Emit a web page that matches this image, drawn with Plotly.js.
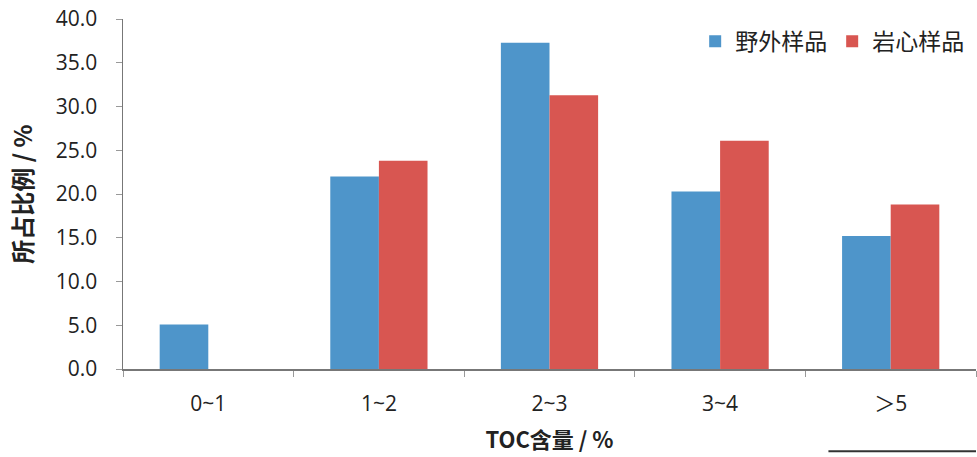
<!DOCTYPE html>
<html><head><meta charset="utf-8">
<script src="https://cdn.plot.ly/plotly-3.0.1.min.js"></script>
<style>html,body{margin:0;padding:0;background:#fff;}#chart{width:977px;height:457px;}</style>
</head><body><div id="chart"></div>
<script>
const categories = ["0~1", "1~2", "2~3", "3~4", "＞5"];
const fieldName = "野外样品";
const coreName = "岩心样品";
const fieldValues = [5.1, 22.0, 37.3, 20.3, 15.2];
const coreValues = [0, 23.8, 31.3, 26.1, 18.8];
const yTickVals = [0, 5, 10, 15, 20, 25, 30, 35, 40];

const traces = [
  {type: 'bar', name: fieldName, x: categories, y: fieldValues,
   marker: {color: '#4E95CA'}, hoverinfo: 'none'},
  {type: 'bar', name: coreName, x: categories, y: coreValues,
   marker: {color: '#D85651'}, hoverinfo: 'none'}
];

const layout = {
  width: 977, height: 457,
  margin: {l: 123, r: 1, t: 19, b: 88, pad: 0},
  paper_bgcolor: '#fff', plot_bgcolor: '#fff',
  barmode: 'group', bargap: 0.43, bargroupgap: 0,
  font: {family: '"Open Sans", "Noto Sans CJK SC", sans-serif', color: '#222'},
  xaxis: {
    type: 'category', tickson: 'boundaries', ticks: 'outside', ticklen: 6,
    tickcolor: '#999', showline: true, linecolor: '#777', linewidth: 1.5,
    showgrid: false, zeroline: false, ticklabelstandoff: 15,
    tickfont: {size: 21, family: '"Open Sans", "Noto Sans CJK SC", sans-serif', color: '#222'},
    title: {text: 'TOC含量 / %', standoff: 17,
            font: {size: 22, family: '"Noto Sans CJK SC", sans-serif', color: '#222', weight: 'bold'}}
  },
  yaxis: {
    range: [0, 40], tickvals: yTickVals, tickformat: '.1f',
    ticks: 'outside', ticklen: 6, tickcolor: '#999',
    showline: true, linecolor: '#777', linewidth: 1.5,
    showgrid: false, zeroline: false, ticklabelstandoff: 14,
    tickfont: {size: 21, color: '#222'},
    title: {text: '所占比例 / %', standoff: 16,
            font: {size: 24, family: '"Noto Sans CJK SC", sans-serif', color: '#222', weight: 'bold'}}
  },
  showlegend: true,
  legend: {orientation: 'h', x: 0.992, xanchor: 'right', y: 0.998, yanchor: 'top',
           bgcolor: 'rgba(0,0,0,0)', font: {size: 23, family: '"Noto Sans CJK SC", sans-serif', color: '#222'},
           itemwidth: 30, traceorder: 'normal'},
  shapes: [
    {type: 'line', xref: 'paper', yref: 'paper', x0: 0.827, x1: 1.0, y0: -0.235, y1: -0.235,
     line: {color: '#333', width: 2}}
  ]
};

Plotly.newPlot('chart', traces, layout, {displayModeBar: false, staticPlot: true});
</script></body></html>
